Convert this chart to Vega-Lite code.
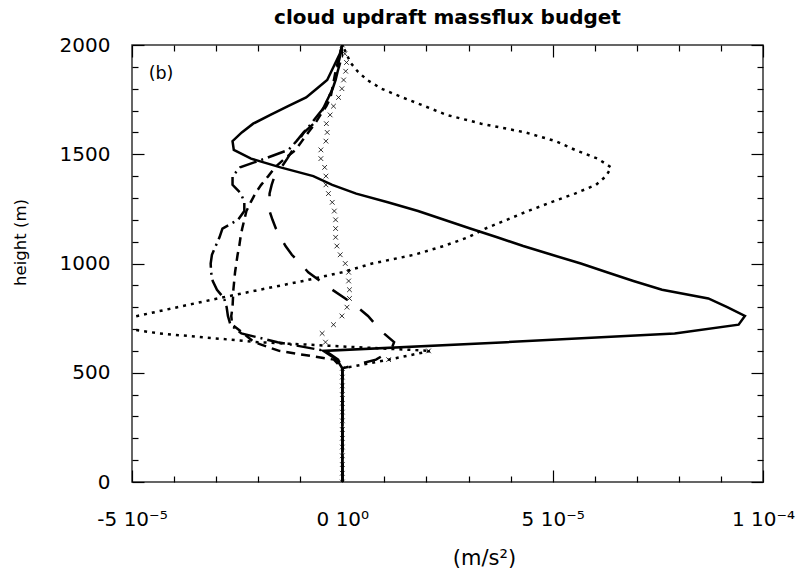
{
  "$schema": "https://vega.github.io/schema/vega-lite/v6.json",
  "width": 631,
  "height": 437,
  "autosize": "none",
  "padding": {"left": 132, "top": 45, "right": 34, "bottom": 93},
  "background": "white",
  "title": {
    "text": "cloud updraft massflux budget",
    "font": "DejaVu Sans",
    "fontSize": 20,
    "fontWeight": "bold",
    "color": "black",
    "anchor": "middle",
    "frame": "group",
    "baseline": "alphabetic",
    "offset": 12,
    "dy": 21
  },
  "config": {
    "view": {"stroke": "#333", "strokeWidth": 1.5},
    "axis": {
      "domain": false,
      "grid": false,
      "tickColor": "black",
      "tickWidth": 1.2,
      "labelFont": "DejaVu Sans",
      "labelFontSize": 20,
      "labelColor": "black",
      "titleFont": "DejaVu Sans",
      "titleFontWeight": "normal",
      "titleColor": "black"
    }
  },
  "datasets": {
    "solid": [
      {"h": 0, "v": 0}, {"h": 520, "v": 0}, {"h": 560, "v": -1.3e-6}, {"h": 600, "v": -4.5e-6},
      {"h": 640, "v": 3.9e-5}, {"h": 680, "v": 7.9e-5}, {"h": 720, "v": 9.42e-5}, {"h": 760, "v": 9.57e-5},
      {"h": 800, "v": 9.15e-5}, {"h": 840, "v": 8.7e-5}, {"h": 880, "v": 7.6e-5}, {"h": 920, "v": 6.92e-5},
      {"h": 960, "v": 6.29e-5}, {"h": 1000, "v": 5.67e-5}, {"h": 1040, "v": 4.98e-5}, {"h": 1080, "v": 4.3e-5},
      {"h": 1120, "v": 3.68e-5}, {"h": 1160, "v": 3.04e-5}, {"h": 1200, "v": 2.42e-5}, {"h": 1240, "v": 1.8e-5},
      {"h": 1280, "v": 1.08e-5}, {"h": 1320, "v": 3.3e-6}, {"h": 1360, "v": -2.4e-6}, {"h": 1400, "v": -6.9e-6},
      {"h": 1440, "v": -1.47e-5}, {"h": 1480, "v": -2.17e-5}, {"h": 1520, "v": -2.58e-5}, {"h": 1560, "v": -2.61e-5},
      {"h": 1600, "v": -2.39e-5}, {"h": 1640, "v": -2.12e-5}, {"h": 1680, "v": -1.71e-5}, {"h": 1720, "v": -1.29e-5},
      {"h": 1760, "v": -8.6e-6}, {"h": 1800, "v": -6.1e-6}, {"h": 1840, "v": -3.6e-6}, {"h": 1880, "v": -2.6e-6},
      {"h": 1920, "v": -1.6e-6}, {"h": 1960, "v": -6e-7}, {"h": 2000, "v": 0}
    ],
    "dotted": [
      {"h": 0, "v": 0}, {"h": 520, "v": 0}, {"h": 560, "v": 1.1e-5}, {"h": 600, "v": 2.1e-5},
      {"h": 640, "v": -2.0e-5}, {"h": 680, "v": -4.35e-5}, {"h": 720, "v": -5.8e-5}, {"h": 760, "v": -4.87e-5},
      {"h": 800, "v": -3.92e-5}, {"h": 840, "v": -2.96e-5}, {"h": 880, "v": -1.96e-5}, {"h": 920, "v": -9.3e-6},
      {"h": 960, "v": 0}, {"h": 1000, "v": 7.1e-6}, {"h": 1040, "v": 1.71e-5}, {"h": 1080, "v": 2.41e-5},
      {"h": 1120, "v": 2.99e-5}, {"h": 1160, "v": 3.4e-5}, {"h": 1200, "v": 3.91e-5}, {"h": 1240, "v": 4.41e-5},
      {"h": 1280, "v": 4.96e-5}, {"h": 1320, "v": 5.53e-5}, {"h": 1360, "v": 6.03e-5}, {"h": 1400, "v": 6.27e-5},
      {"h": 1440, "v": 6.39e-5}, {"h": 1480, "v": 6.07e-5}, {"h": 1520, "v": 5.53e-5}, {"h": 1560, "v": 5.07e-5},
      {"h": 1600, "v": 4.35e-5}, {"h": 1640, "v": 3.3e-5}, {"h": 1680, "v": 2.48e-5}, {"h": 1720, "v": 1.96e-5},
      {"h": 1760, "v": 1.43e-5}, {"h": 1800, "v": 9.3e-6}, {"h": 1840, "v": 5.9e-6}, {"h": 1880, "v": 3.6e-6},
      {"h": 1920, "v": 1.9e-6}, {"h": 1960, "v": 1e-6}, {"h": 2000, "v": 0}
    ],
    "dashed": [
      {"h": 0, "v": 0}, {"h": 520, "v": 0}, {"h": 560, "v": -2e-6}, {"h": 600, "v": -1.5e-5},
      {"h": 640, "v": -2.1e-5}, {"h": 680, "v": -2.35e-5}, {"h": 720, "v": -2.62e-5}, {"h": 760, "v": -2.64e-5},
      {"h": 800, "v": -2.61e-5}, {"h": 840, "v": -2.6e-5}, {"h": 880, "v": -2.59e-5}, {"h": 920, "v": -2.57e-5},
      {"h": 960, "v": -2.55e-5}, {"h": 1000, "v": -2.52e-5}, {"h": 1040, "v": -2.49e-5}, {"h": 1080, "v": -2.45e-5},
      {"h": 1120, "v": -2.42e-5}, {"h": 1160, "v": -2.38e-5}, {"h": 1200, "v": -2.33e-5}, {"h": 1240, "v": -2.28e-5},
      {"h": 1280, "v": -2.18e-5}, {"h": 1320, "v": -2.07e-5}, {"h": 1360, "v": -1.93e-5}, {"h": 1400, "v": -1.76e-5},
      {"h": 1440, "v": -1.6e-5}, {"h": 1480, "v": -1.37e-5}, {"h": 1520, "v": -1.11e-5}, {"h": 1560, "v": -9.6e-6},
      {"h": 1600, "v": -8.1e-6}, {"h": 1640, "v": -6.5e-6}, {"h": 1680, "v": -5.2e-6}, {"h": 1720, "v": -3.8e-6},
      {"h": 1760, "v": -2.8e-6}, {"h": 1800, "v": -2.4e-6}, {"h": 1840, "v": -2e-6}, {"h": 1880, "v": -1.6e-6},
      {"h": 1920, "v": -1.1e-6}, {"h": 1960, "v": -6e-7}, {"h": 2000, "v": 0}
    ],
    "dashdot": [
      {"h": 0, "v": 0}, {"h": 520, "v": 0}, {"h": 560, "v": -1e-6}, {"h": 600, "v": -4e-6},
      {"h": 640, "v": -1.54e-5}, {"h": 680, "v": -2.4e-5}, {"h": 720, "v": -2.66e-5}, {"h": 760, "v": -2.72e-5},
      {"h": 800, "v": -2.75e-5}, {"h": 840, "v": -2.81e-5}, {"h": 880, "v": -2.98e-5}, {"h": 920, "v": -3.08e-5},
      {"h": 960, "v": -3.12e-5}, {"h": 1000, "v": -3.13e-5}, {"h": 1040, "v": -3.1e-5}, {"h": 1080, "v": -3.01e-5},
      {"h": 1120, "v": -2.92e-5}, {"h": 1160, "v": -2.85e-5}, {"h": 1200, "v": -2.48e-5}, {"h": 1240, "v": -2.33e-5},
      {"h": 1280, "v": -2.33e-5}, {"h": 1320, "v": -2.41e-5}, {"h": 1360, "v": -2.61e-5}, {"h": 1400, "v": -2.61e-5},
      {"h": 1440, "v": -2.43e-5}, {"h": 1480, "v": -1.84e-5}, {"h": 1520, "v": -1.28e-5}, {"h": 1560, "v": -1.09e-5},
      {"h": 1600, "v": -9.2e-6}, {"h": 1640, "v": -7.4e-6}, {"h": 1680, "v": -5.8e-6}, {"h": 1720, "v": -4.1e-6},
      {"h": 1760, "v": -3.3e-6}, {"h": 1800, "v": -2.3e-6}, {"h": 1840, "v": -1.6e-6}, {"h": 1880, "v": -1.3e-6},
      {"h": 1920, "v": -9e-7}, {"h": 1960, "v": -4e-7}, {"h": 2000, "v": 0}
    ],
    "longdash": [
      {"h": 0, "v": 0}, {"h": 520, "v": 0}, {"h": 560, "v": 8e-6}, {"h": 600, "v": 1.15e-5},
      {"h": 640, "v": 1.23e-5}, {"h": 680, "v": 9.9e-6}, {"h": 720, "v": 7.9e-6}, {"h": 760, "v": 6.1e-6},
      {"h": 800, "v": 3.6e-6}, {"h": 840, "v": 7e-7}, {"h": 880, "v": -2.4e-6}, {"h": 920, "v": -5.3e-6},
      {"h": 960, "v": -8.1e-6}, {"h": 1000, "v": -1.0e-5}, {"h": 1040, "v": -1.2e-5}, {"h": 1080, "v": -1.35e-5},
      {"h": 1120, "v": -1.47e-5}, {"h": 1160, "v": -1.58e-5}, {"h": 1200, "v": -1.66e-5}, {"h": 1240, "v": -1.73e-5},
      {"h": 1280, "v": -1.73e-5}, {"h": 1320, "v": -1.73e-5}, {"h": 1360, "v": -1.68e-5}, {"h": 1400, "v": -1.61e-5},
      {"h": 1440, "v": -1.45e-5}, {"h": 1480, "v": -1.31e-5}, {"h": 1520, "v": -1.18e-5}, {"h": 1560, "v": -1.05e-5},
      {"h": 1600, "v": -9.1e-6}, {"h": 1640, "v": -6.8e-6}, {"h": 1680, "v": -5.3e-6}, {"h": 1720, "v": -4.3e-6},
      {"h": 1760, "v": -3.3e-6}, {"h": 1800, "v": -2.2e-6}, {"h": 1840, "v": -1.6e-6}, {"h": 1880, "v": -1.1e-6},
      {"h": 1920, "v": -5e-7}, {"h": 1960, "v": -2e-7}, {"h": 2000, "v": 0}
    ],
    "crosses": [
      {"h": 0, "v": 0}, {"h": 40, "v": 0}, {"h": 80, "v": 0}, {"h": 120, "v": 0}, {"h": 160, "v": 0},
      {"h": 200, "v": 0}, {"h": 240, "v": 0}, {"h": 280, "v": 0}, {"h": 320, "v": 0}, {"h": 360, "v": 0},
      {"h": 400, "v": 0}, {"h": 440, "v": 0}, {"h": 480, "v": 0}, {"h": 520, "v": 0}, {"h": 560, "v": 1.1e-5},
      {"h": 600, "v": 2.05e-5}, {"h": 640, "v": -4.0e-6}, {"h": 680, "v": -4.8e-6}, {"h": 720, "v": -2.1e-6},
      {"h": 760, "v": -1e-7}, {"h": 800, "v": 1.1e-6}, {"h": 840, "v": 1.7e-6}, {"h": 880, "v": 1.7e-6},
      {"h": 920, "v": 1.5e-6}, {"h": 960, "v": 1.5e-6}, {"h": 1000, "v": 7e-7}, {"h": 1040, "v": -5e-7},
      {"h": 1080, "v": -1.3e-6}, {"h": 1120, "v": -1.6e-6}, {"h": 1160, "v": -1.6e-6}, {"h": 1200, "v": -1.6e-6},
      {"h": 1240, "v": -1.9e-6}, {"h": 1280, "v": -2.4e-6}, {"h": 1320, "v": -3.3e-6}, {"h": 1360, "v": -3.9e-6},
      {"h": 1400, "v": -3.9e-6}, {"h": 1440, "v": -4.2e-6}, {"h": 1480, "v": -5.1e-6}, {"h": 1520, "v": -5.1e-6},
      {"h": 1560, "v": -3.9e-6}, {"h": 1600, "v": -3.6e-6}, {"h": 1640, "v": -3.8e-6}, {"h": 1680, "v": -2.9e-6},
      {"h": 1720, "v": -2.1e-6}, {"h": 1760, "v": -9e-7}, {"h": 1800, "v": -1e-7}, {"h": 1840, "v": 3e-7},
      {"h": 1880, "v": 8e-7}, {"h": 1920, "v": 1e-6}, {"h": 1960, "v": 6e-7}, {"h": 2000, "v": 0}
    ],
    "panel": [
      {"h": 1865, "v": -4.31e-5, "text": "(b)"}
    ]
  },
  "resolve": {"axis": {"x": "independent", "y": "independent"}},
  "layer": [
    {
      "data": {"name": "solid"},
      "mark": {"type": "line", "color": "black", "strokeWidth": 2.5, "clip": true},
      "encoding": {
        "x": {
          "field": "v", "type": "quantitative",
          "scale": {"domain": [-5e-5, 1e-4], "nice": false, "zero": false},
          "axis": {
            "orient": "bottom", "values": [-5e-5, 0, 5e-5, 1e-4],
            "ticks": false, "tickSize": 0, "labelPadding": 27,
            "labelFlush": false, "labelOverlap": false, "labelBound": false,
            "labelExpr": "datum.value < -1e-5 ? '-5 10⁻⁵' : datum.value < 1e-5 ? '0 10⁰' : datum.value < 7e-5 ? '5 10⁻⁵' : '1 10⁻⁴'",
            "title": "(m/s²)", "titleFontSize": 21, "titleX": 352, "titleY": 82,
            "titleBaseline": "alphabetic", "titleAnchor": "middle", "titleAlign": "center"
          }
        },
        "y": {
          "field": "h", "type": "quantitative",
          "scale": {"domain": [0, 2000], "nice": false},
          "axis": {
            "orient": "left", "values": [0, 500, 1000, 1500, 2000], "format": "d",
            "ticks": false, "tickSize": 0, "labelPadding": 22,
            "labelFlush": false, "labelOverlap": false, "labelBound": false,
            "labelBaseline": "middle",
            "title": "height (m)", "titleFontSize": 16.5, "titleX": -112, "titleY": 197,
            "titleAngle": 270, "titleBaseline": "middle", "titleAlign": "center"
          }
        },
        "order": {"value": null}
      }
    },
    {
      "data": {"name": "dotted"},
      "mark": {"type": "line", "color": "black", "strokeWidth": 2.5, "strokeDash": [3, 5], "clip": true},
      "encoding": {
        "x": {
          "field": "v", "type": "quantitative",
          "axis": {"orient": "bottom", "values": [-5e-5, 0, 5e-5, 1e-4], "labels": false, "tickSize": -12, "title": null}
        },
        "y": {
          "field": "h", "type": "quantitative",
          "axis": {"orient": "left", "values": [0, 500, 1000, 1500, 2000], "labels": false, "tickSize": -12, "title": null}
        },
        "order": {"value": null}
      }
    },
    {
      "data": {"name": "dashed"},
      "mark": {"type": "line", "color": "black", "strokeWidth": 2.5, "strokeDash": [9, 6], "clip": true},
      "encoding": {
        "x": {
          "field": "v", "type": "quantitative",
          "axis": {"orient": "bottom", "values": [-4e-5, -3e-5, -2e-5, -1e-5, 1e-5, 2e-5, 3e-5, 4e-5, 6e-5, 7e-5, 8e-5, 9e-5], "labels": false, "tickSize": -6, "title": null}
        },
        "y": {
          "field": "h", "type": "quantitative",
          "axis": {"orient": "left", "values": [100, 200, 300, 400, 600, 700, 800, 900, 1100, 1200, 1300, 1400, 1600, 1700, 1800, 1900], "labels": false, "tickSize": -6, "title": null}
        },
        "order": {"value": null}
      }
    },
    {
      "data": {"name": "dashdot"},
      "mark": {"type": "line", "color": "black", "strokeWidth": 2.5, "strokeDash": [18, 5, 2, 5], "clip": true},
      "encoding": {
        "x": {
          "field": "v", "type": "quantitative",
          "axis": {"orient": "top", "values": [-5e-5, 0, 5e-5, 1e-4], "labels": false, "tickSize": -12, "title": null}
        },
        "y": {
          "field": "h", "type": "quantitative",
          "axis": {"orient": "right", "values": [0, 500, 1000, 1500, 2000], "labels": false, "tickSize": -12, "title": null}
        },
        "order": {"value": null}
      }
    },
    {
      "data": {"name": "longdash"},
      "mark": {"type": "line", "color": "black", "strokeWidth": 2.5, "strokeDash": [18, 16], "clip": true},
      "encoding": {
        "x": {
          "field": "v", "type": "quantitative",
          "axis": {"orient": "top", "values": [-4e-5, -3e-5, -2e-5, -1e-5, 1e-5, 2e-5, 3e-5, 4e-5, 6e-5, 7e-5, 8e-5, 9e-5], "labels": false, "tickSize": -6, "title": null}
        },
        "y": {
          "field": "h", "type": "quantitative",
          "axis": {"orient": "right", "values": [100, 200, 300, 400, 600, 700, 800, 900, 1100, 1200, 1300, 1400, 1600, 1700, 1800, 1900], "labels": false, "tickSize": -6, "title": null}
        },
        "order": {"value": null}
      }
    },
    {
      "data": {"name": "crosses"},
      "mark": {"type": "point", "shape": "M-1,-1L1,1M-1,1L1,-1", "filled": false, "stroke": "black", "strokeWidth": 0.8, "size": 22, "opacity": 1, "clip": true},
      "encoding": {
        "x": {"field": "v", "type": "quantitative", "axis": null},
        "y": {"field": "h", "type": "quantitative", "axis": null}
      }
    },
    {
      "data": {"name": "panel"},
      "mark": {"type": "text", "font": "DejaVu Sans", "fontSize": 17.5, "color": "black", "align": "center", "baseline": "middle"},
      "encoding": {
        "x": {"field": "v", "type": "quantitative", "axis": null},
        "y": {"field": "h", "type": "quantitative", "axis": null},
        "text": {"field": "text"}
      }
    }
  ]
}
